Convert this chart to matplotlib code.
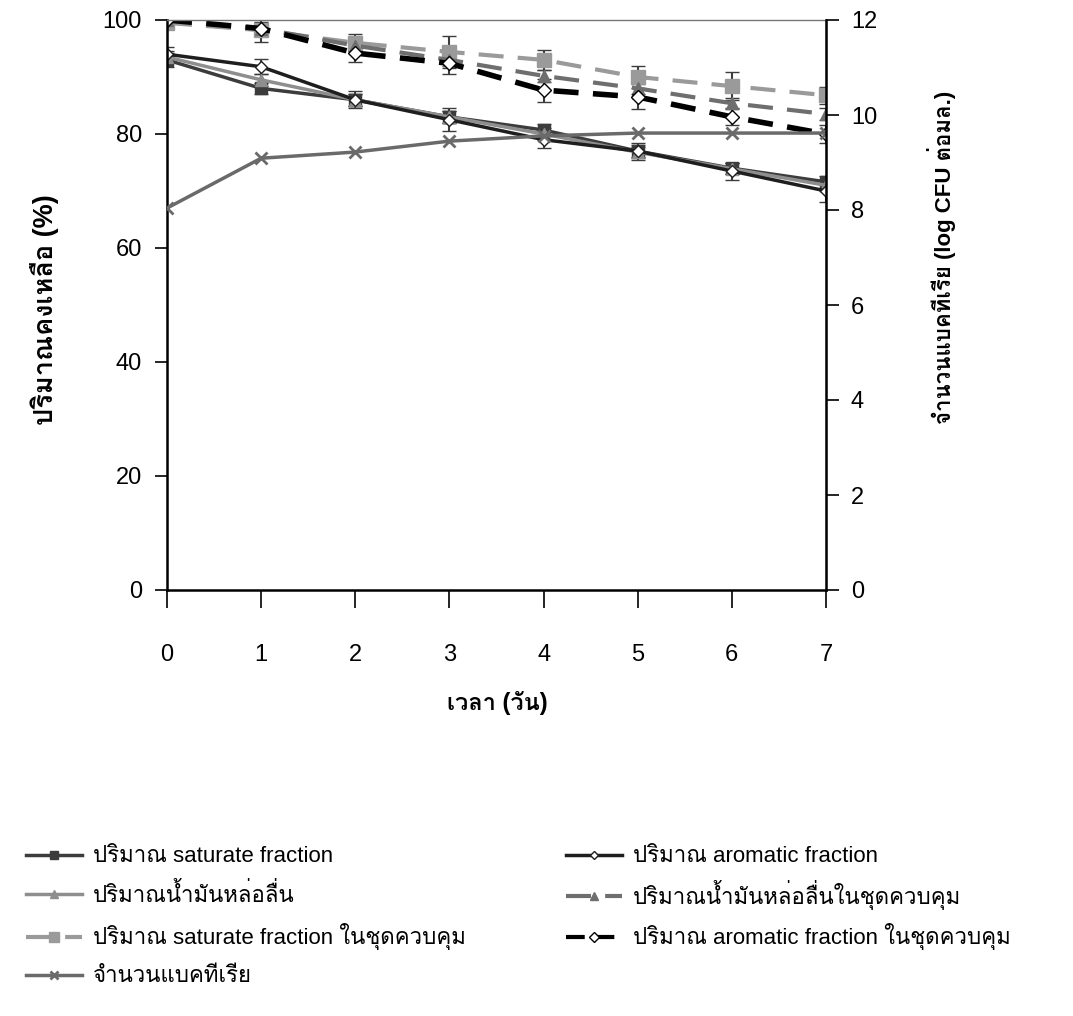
import numpy as np
import matplotlib
matplotlib.use('Agg')
import matplotlib.pyplot as plt
from matplotlib import font_manager
from matplotlib.ft2font import FT2Font
from matplotlib.lines import Line2D


# หาฟอนต์ที่มีอักษรไทย (ถ้ามีตัวหนาด้วยจะดีกว่า)
def find_thai_font():
    regular, bold = [], []
    for f in font_manager.fontManager.ttflist:
        try:
            if 0x0E01 in FT2Font(f.fname).get_charmap():
                regular.append(f.name)
                if f.weight in ('bold', 700) or (isinstance(f.weight, int) and f.weight >= 600):
                    bold.append(f.name)
        except Exception:
            pass
    for pref in ['Loma', 'Garuda', 'Noto Sans Thai', 'Tlwg Typo', 'Waree', 'Sarabun']:
        if pref in bold:
            return pref
    if bold:
        return bold[0]
    return regular[0] if regular else None


thai = find_thai_font()
families = ['Liberation Sans']
if thai:
    families.append(thai)
families.append('DejaVu Sans')
plt.rcParams['font.family'] = families

days = [0, 1, 2, 3, 4, 5, 6, 7]

# ปริมาณคงเหลือ (%)
saturate = [93.0, 88.0, 86.0, 83.0, 80.7, 77.0, 74.0, 71.6]
saturate_err = [1.2, 1.0, 1.0, 1.0, 1.0, 1.0, 1.0, 1.0]
aromatic = [94.0, 91.8, 86.0, 82.5, 79.0, 77.0, 73.5, 70.0]
aromatic_err = [1.2, 1.3, 1.5, 2.0, 1.5, 1.5, 1.5, 2.0]
lube = [93.5, 89.5, 86.0, 83.0, 80.0, 76.8, 73.9, 71.0]
lube_err = [1.0, 1.0, 1.0, 1.0, 1.0, 1.0, 1.0, 1.0]

saturate_ctrl = [99.5, 98.2, 96.0, 94.4, 93.0, 90.0, 88.4, 86.8]
saturate_ctrl_err = [0.5, 2.0, 1.5, 2.8, 1.8, 2.0, 2.5, 1.5]
lube_ctrl = [100.0, 98.5, 95.5, 93.0, 90.2, 88.0, 85.4, 83.5]
lube_ctrl_err = [0.5, 1.0, 1.0, 1.0, 1.0, 1.0, 1.0, 1.0]
aromatic_ctrl = [100.0, 98.5, 94.2, 92.4, 87.7, 86.5, 83.0, 80.0]
aromatic_ctrl_err = [1.0, 1.2, 1.5, 1.8, 2.0, 2.2, 1.5, 1.5]

# จำนวนแบคทีเรีย (log CFU ต่อมล.)
bacteria = [8.04, 9.09, 9.22, 9.45, 9.56, 9.62, 9.62, 9.62]

# รูปแบบเส้นแต่ละชุด
st_sat = dict(color='#3c3c3c', lw=2.5, marker='s', ms=8)
st_lube = dict(color='#8e8e8e', lw=2.5, marker='^', ms=9)
st_sat_c = dict(color='#9a9a9a', lw=3, marker='s', ms=10, dashes=(6, 3.4))
st_arom = dict(color='#1e1e1e', lw=2.5, marker='D', ms=6, mfc='white')
st_lube_c = dict(color='#6e6e6e', lw=3, marker='^', ms=9, dashes=(6, 3.4))
st_arom_c = dict(color='black', lw=4, marker='D', ms=7, mfc='white', dashes=(4.5, 2.6))
st_bact = dict(color='#6a6a6a', lw=2.5, marker='x', ms=9, mew=2)

fig = plt.figure(figsize=(10.73, 10.16), dpi=100)
ax1 = fig.add_axes([167/1073, 1-590/1016, (826-167)/1073, (590-20)/1016])

eb = dict(capsize=5, elinewidth=1.5, ecolor='#3c3c3c')
ax1.errorbar(days, saturate, yerr=saturate_err, **st_sat, **eb)
ax1.errorbar(days, lube, yerr=lube_err, **st_lube, **eb)
ax1.errorbar(days, saturate_ctrl, yerr=saturate_ctrl_err, **st_sat_c, **eb)
ax1.errorbar(days, aromatic, yerr=aromatic_err, **st_arom, **eb)
ax1.errorbar(days, lube_ctrl, yerr=lube_ctrl_err, **st_lube_c, **eb)
ax1.errorbar(days, aromatic_ctrl, yerr=aromatic_ctrl_err, **st_arom_c, **eb)

ax1.set_xlim(0, 7)
ax1.set_ylim(0, 100)
ax1.set_xticks(days)
ax1.set_yticks([0, 20, 40, 60, 80, 100])
ax1.tick_params(axis='y', direction='out', length=9, width=1.2, pad=9, labelsize=17)
ax1.tick_params(axis='x', direction='out', length=13, width=1.2, pad=26, labelsize=17)
ax1.spines['left'].set_linewidth(1.8)
ax1.spines['bottom'].set_linewidth(1.8)
ax1.spines['top'].set_color('#777777')
ax1.spines['top'].set_linewidth(1.0)

ax2 = ax1.twinx()
ax2.plot(days, bacteria, **st_bact)
ax2.set_ylim(0, 12)
ax2.set_yticks([0, 2, 4, 6, 8, 10, 12])
ax2.tick_params(axis='y', direction='out', length=9, width=1.2, pad=9, labelsize=17)
ax2.spines['right'].set_linewidth(1.8)
ax2.spines['top'].set_visible(False)
ax2.spines['left'].set_visible(False)
ax2.spines['bottom'].set_visible(False)

fig.text(45/1073, 1-310/1016, 'ปริมาณคงเหลือ (%)', rotation=90, ha='center', va='center',
         fontsize=19.5, fontweight='bold')
fig.text(942/1073, 1-257/1016, 'จำนวนแบคทีเรีย (log CFU ต่อมล.)', rotation=90,
         ha='center', va='center', fontsize=16, fontweight='bold')
fig.text(497/1073, 1-703/1016, 'เวลา (วัน)', ha='center', va='center',
         fontsize=17, fontweight='bold')


# legend ใต้กราฟ วางทีละรายการให้แถวตรงกันทั้งสองคอลัมน์
def proxy(st):
    kw = dict(st)
    kw['ms'] = kw['ms'] * 0.7
    kw['lw'] = min(kw['lw'], 3)
    return Line2D([], [], **kw)


legend_items = [
    (st_sat, 'ปริมาณ saturate fraction', 0, 0),
    (st_lube, 'ปริมาณน้ำมันหล่อลื่น', 0, 1),
    (st_sat_c, 'ปริมาณ saturate fraction ในชุดควบคุม', 0, 2),
    (st_bact, 'จำนวนแบคทีเรีย', 0, 3),
    (st_arom, 'ปริมาณ aromatic fraction', 1, 0),
    (st_lube_c, 'ปริมาณน้ำมันหล่อลื่นในชุดควบคุม', 1, 1),
    (st_arom_c, 'ปริมาณ aromatic fraction ในชุดควบคุม', 1, 2),
]
col_x = [22, 562]
for st, text, col, row in legend_items:
    y = 857 + row * 40
    if row == 1:
        y -= 2
    fig.legend([proxy(st)], [text], loc='center left',
               bbox_to_anchor=(col_x[col]/1073, 1-y/1016),
               frameon=False, fontsize=16, handlelength=2.5, handletextpad=0.5,
               borderpad=0.2, borderaxespad=0)

fig.savefig('out.png', dpi=100)
